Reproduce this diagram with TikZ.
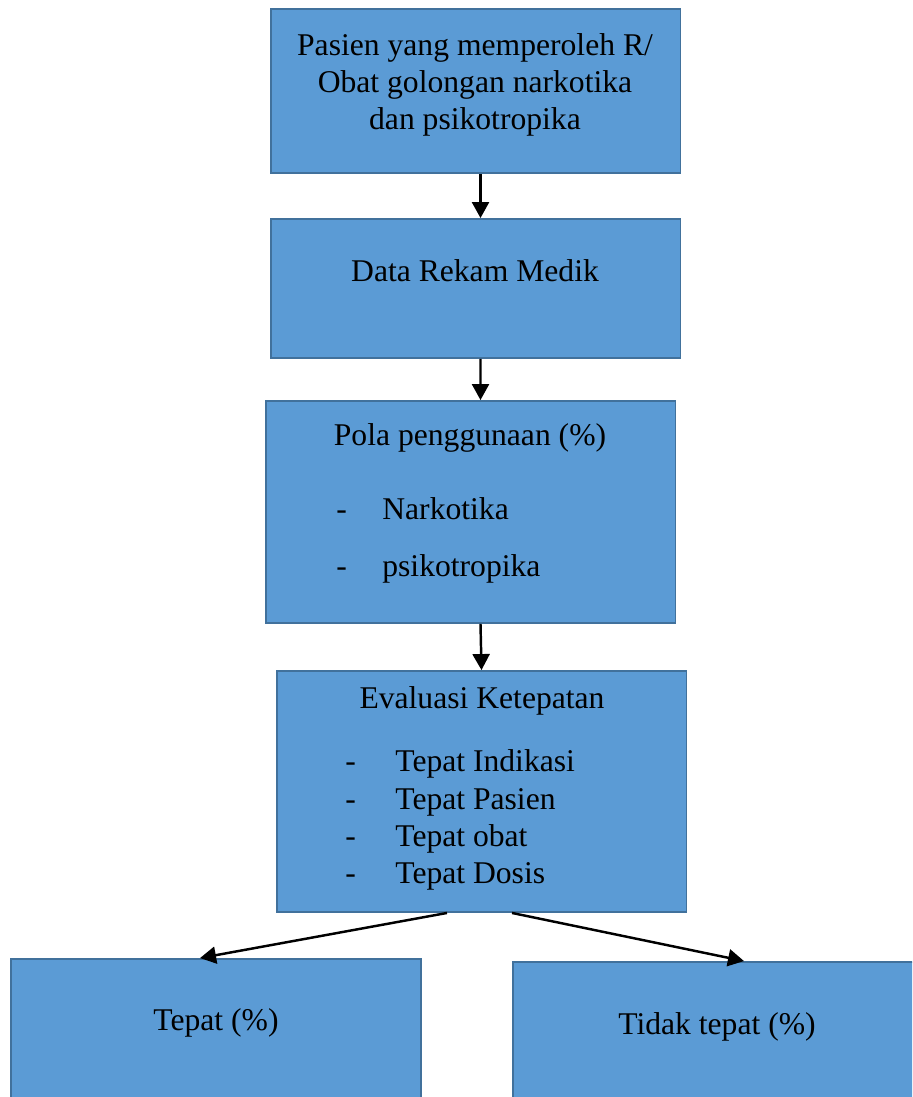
\documentclass[tikz,border=0pt]{standalone}
\usepackage{fontspec}
\setmainfont{Liberation Serif}
\usetikzlibrary{arrows.meta,calc}

\definecolor{boxfill}{HTML}{5B9BD5}
\definecolor{boxline}{HTML}{41719C}

\tikzset{
    flowbox/.style={draw=boxline, line width=1.1pt, fill=boxfill, minimum width=8.2cm, inner sep=0pt},
    txt/.style={inner sep=0pt, font=\fontsize{18}{21}\selectfont, align=center},
    flowarrow/.style={-{Triangle[width=0.34cm,length=0.32cm]}, line width=1.4pt}
}

\begin{document}
\begin{tikzpicture}[x=0.02cm, y=-0.02cm]

    \clip (0,0) rectangle (912,1097);
    \useasboundingbox (0,0) rectangle (912,1097);

    % boxes
    \node[flowbox, minimum height=3.28cm] (pasien) at (475.5, 91) {};
    \node[flowbox, minimum height=2.78cm] (rekam) at (475.5, 288.5) {};
    \node[flowbox, minimum height=4.44cm] (pola) at (470.5, 512) {};
    \node[flowbox, minimum height=4.82cm] (eval) at (481.5, 791.5) {};
    \node[flowbox, minimum height=4.4cm] (tepat) at (216, 1069) {};
    \node[flowbox, minimum height=4.4cm] (tidak) at (718, 1072) {};

    % texts
    \node[txt] (pasientxt) at (475, 85) {Pasien yang memperoleh R/\\Obat golongan narkotika\\dan psikotropika};
    \node[txt] (rekamtxt) at (475, 271) {Data Rekam Medik};
    \node[txt] (polatxt) at (470, 438) {Pola penggunaan (\%)};
    \node[txt, anchor=base west] (poladash1) at (336, 519) {-};
    \node[txt, anchor=base west] (polaitem1) at (382, 519) {Narkotika};
    \node[txt, anchor=base west] (poladash2) at (336, 576) {-};
    \node[txt, anchor=base west] (polaitem2) at (382, 576) {psikotropika};
    \node[txt] (evaltxt) at (482, 701) {Evaluasi Ketepatan};
    \foreach \item/\ypos [count=\i] in {Tepat Indikasi/771, Tepat Pasien/809, Tepat obat/846, Tepat Dosis/883} {
        \node[txt, anchor=base west] (evaldash\i) at (345, \ypos) {-};
        \node[txt, anchor=base west] (evalitem\i) at (395, \ypos) {\item};
    }
    \node[txt] (tepattxt) at (216, 1023) {Tepat (\%)};
    \node[txt] (tidaktxt) at (717, 1027) {Tidak tepat (\%)};

    % connectors
    \draw[flowarrow] ([xshift=0.1cm]pasien.south) -- ([xshift=0.1cm]rekam.north);
    \draw[flowarrow] ([xshift=0.1cm]rekam.south) -- ([xshift=0.2cm]pola.north);
    \draw[flowarrow] ([xshift=0.2cm]pola.south) -- (eval.north);
    \draw[flowarrow] ([xshift=-0.69cm]eval.south) -- ([xshift=-0.32cm]tepat.north);
    \draw[flowarrow] ([xshift=0.61cm]eval.south) -- ([xshift=0.52cm]tidak.north);

\end{tikzpicture}
\end{document}
